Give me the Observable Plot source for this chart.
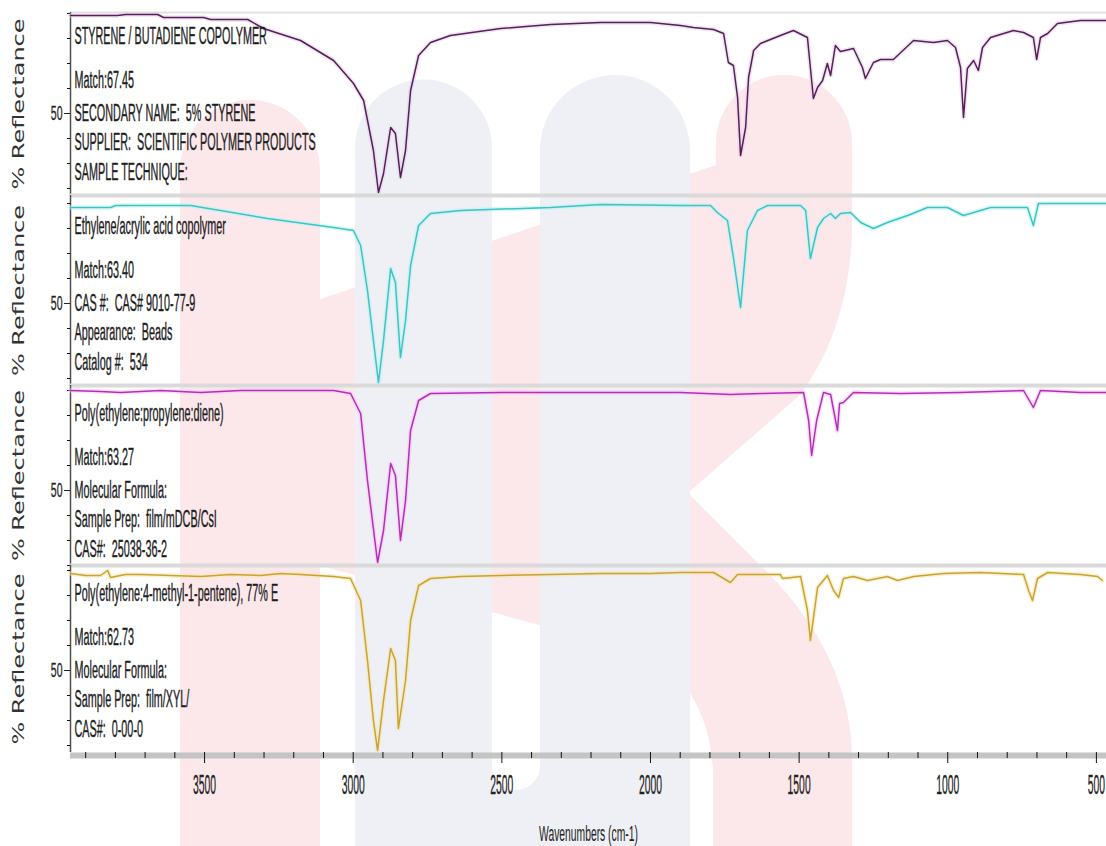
<!DOCTYPE html>
<html>
<head>
<meta charset="utf-8">
<script src="https://cdn.jsdelivr.net/npm/d3@7"></script>
<script src="https://cdn.jsdelivr.net/npm/@observablehq/plot@0.6"></script>
<style>
  body { margin: 0; background: #fff; }
  #wrap { position: relative; width: 1106px; height: 846px; overflow: hidden; background: #fff; }
  #wm { position: absolute; left: 0; top: 0; }
  #charts { position: absolute; left: 0; top: 0; }
  #charts svg { display: block; }
  #charts svg text { white-space: pre; }
</style>
</head>
<body>
<div id="wrap">
  <svg id="wm" width="1106" height="846">
    <g fill="#fce8eb">
      <path d="M180,846 V170 A70,70 0 0 1 320,170 V846 Z"/>
      <path d="M318,300 L716,165 V143 A68,68 0 0 1 852,143 V235 Q848,330 800,395 L688,493 L770,575 Q852,660 852,760 V846 H713 V770 Q708,690 650,655 L318,565 Z"/>
    </g>
    <path fill="#eef0f5" d="M355,846 V148 A68.5,68.5 0 0 1 492,148 V766 A24,24 0 0 0 540,766 V150 A75,75 0 0 1 690,150 V846 Z"/>
  </svg>
  <div id="charts"></div>
</div>
<script>
// ---------- data ----------
const styreneWn = [3951,3793,3766,3658,3638,3503,3480,3355,3302,3177,3066,2999,2965,2932,2915,2898,2874,2858,2841,2824,2807,2780,2740,2673,2504,2336,2168,2000,1899,1856,1788,1754,1738,1721,1707,1697,1680,1670,1653,1630,1563,1519,1472,1452,1438,1421,1405,1394,1378,1361,1317,1287,1277,1250,1226,1183,1115,1048,1001,974,957,947,934,913,897,883,856,779,745,712,701,688,664,631,554,466];
const styreneR = [89.2,89.2,89.6,89.6,88.4,88.4,87.6,87.6,84,79.2,71.2,62,55.2,35.2,18.4,26,44.4,42,24.4,35.2,59.2,73.2,78.4,81.2,84,85.6,86.4,86.4,85.2,84.4,83.6,82,70.4,69.2,56.4,33.2,44.4,64.4,75.2,78,81.2,83.2,80.4,56,60.4,63.2,70,65.2,77.2,74.8,76,68.4,64,70.4,71.6,71.6,79.2,78.4,79.2,76.4,68.4,48.4,68,71.2,67.2,76.4,80.4,83.2,82.4,80.4,71.6,80.4,82,86,87.2,87.2];

const eaaWn = [3951,3816,3799,3547,3288,3066,2999,2975,2952,2932,2915,2898,2874,2858,2841,2824,2807,2780,2740,2639,2336,2168,1899,1798,1775,1741,1721,1697,1674,1640,1606,1495,1478,1462,1438,1418,1394,1378,1361,1327,1293,1250,1203,1135,1068,1001,947,890,856,732,712,695,466];
const eaaR = [88.4,88.4,89.2,89.2,84,80.4,79.2,73.2,55.2,35.2,18.4,35.2,64,58.4,28.4,43.2,65.2,81.2,86,87.2,88.4,89.6,89.2,89.2,86.4,83.2,68.4,48.4,79.2,87.2,89.2,89.2,87.2,68,80.4,84,86,84,86,86.4,82.4,80,82.4,85.2,88.4,88.4,85.2,87.2,88.4,88.4,81.2,90,90];

const epdmWn = [3951,3850,3783,3648,3513,3379,3066,3009,2975,2952,2918,2898,2874,2858,2841,2824,2807,2780,2740,2504,2168,1899,1731,1630,1485,1468,1458,1441,1418,1394,1371,1364,1351,1317,1159,957,745,712,688,554,466];
const epdmR = [90,89.6,89.2,90,89.2,90,90,88.8,80.8,54,21.2,34,60.8,56,30,46,74,86,88.8,89.2,89.2,89.2,88.4,88.8,89.2,78,64,78,89.2,88.4,74,84.8,85.2,89.2,88.8,89.2,90,83.2,90,89.2,89.2];

const pmpWn = [3951,3900,3850,3826,3816,3766,3715,3614,3513,3413,3312,3244,3177,3066,3009,2975,2952,2932,2918,2898,2874,2858,2848,2824,2807,2780,2740,2639,2504,2336,2168,2000,1899,1788,1731,1707,1563,1556,1495,1472,1462,1438,1405,1384,1367,1351,1317,1270,1203,1169,1115,1014,890,745,728,715,698,664,554,496,480];
const pmpR = [88.8,88,88,90,87.2,88.4,88.4,88,87.6,88.4,88,88.8,88.4,87.6,86.8,78,54,30,18,38,58.8,54,26.8,46,70,84,86.8,87.6,88,88.4,88.8,88.8,89.2,89.2,85.2,88.4,88.4,86.8,87.6,74,62,83.2,88,82,79.2,86.8,87.6,86,87.6,86,87.6,88.8,89.2,88.4,82,78,86.8,89.2,88.4,87.6,86];

const styreneInfo = ["STYRENE / BUTADIENE COPOLYMER", "Match:67.45", "SECONDARY NAME:  5% STYRENE", "SUPPLIER:  SCIENTIFIC POLYMER PRODUCTS", "SAMPLE TECHNIQUE:"];
const eaaInfo = ["Ethylene/acrylic acid copolymer", "Match:63.40", "CAS #:  CAS# 9010-77-9", "Appearance:  Beads", "Catalog #:  534"];
const epdmInfo = ["Poly(ethylene:propylene:diene)", "Match:63.27", "Molecular Formula:", "Sample Prep:  film/mDCB/CsI", "CAS#:  25038-36-2"];
const pmpInfo = ["Poly(ethylene:4-methyl-1-pentene), 77% E", "Match:62.73", "Molecular Formula:", "Sample Prep:  film/XYL/", "CAS#:  0-00-0"];

const xMajorTicks = [3500, 3000, 2500, 2000, 1500, 1000, 500];
const xMinorTicks = [3900, 3800, 3700, 3600, 3400, 3300, 3200, 3100, 2900, 2800, 2700, 2600, 2400, 2300, 2200, 2100, 1900, 1800, 1700, 1600, 1400, 1300, 1200, 1100, 900, 800, 700, 600];
const yMajorTicks = [50];
const yMinorTicks = [20, 30, 40, 60, 70, 80, 90];
const yLabel = "% Reflectance";
const xLabel = "Wavenumbers (cm-1)";

// ---------- layout ----------
const xDomain = [3951, 466];
const infoOffsets = [30.8, 13.2, 0, -11.6, -23.6];
const squeeze = {"28px": 0.37, "21px": 0.5, "23px": 0.47, "22px": 0.47};

const panels = [
  {wn: styreneWn, r: styreneR, info: styreneInfo, color: "#55205a", halo: "#e6cfe6", yDomain: [17.2, 90.4], height: 195, marginTop: 12, marginBottom: 0, sepColor: "#e2e2e2", sepWidth: 2},
  {wn: eaaWn, r: eaaR, info: eaaInfo, color: "#3cc4c4", halo: "#bdf0f0", yDomain: [17.2, 93.2], height: 190, marginTop: 0, marginBottom: 0, sepColor: "#dadada", sepWidth: 4},
  {wn: epdmWn, r: epdmR, info: epdmInfo, color: "#b52fb5", halo: "#f6c4f6", yDomain: [20, 92], height: 180, marginTop: 0, marginBottom: 0, sepColor: "#dadada", sepWidth: 4},
  {wn: pmpWn, r: pmpR, info: pmpInfo, color: "#c9a230", halo: "#f5e6b0", yDomain: [17.2, 92], height: 281, marginTop: 0, marginBottom: 94, sepColor: "#dadada", sepWidth: 4, xAxis: true}
];

function condense(svg) {
  svg.querySelectorAll("text").forEach(t => {
    if (!t.textContent) return;
    let extra;
    if (t.textContent === yLabel) extra = " scale(1,0.68)";
    else {
      const fs = getComputedStyle(t).fontSize;
      extra = ` scale(${squeeze[fs] || 0.47},1)`;
    }
    let tr = t.getAttribute("transform");
    if (!tr) {
      const x = t.getAttribute("x") || 0, y = t.getAttribute("y") || 0;
      t.removeAttribute("x"); t.removeAttribute("y");
      tr = `translate(${x},${y})`;
    }
    t.setAttribute("transform", tr + extra);
  });
}

const host = document.getElementById("charts");
panels.forEach(cfg => {
  const data = cfg.wn.map((w, i) => ({wn: w, r: cfg.r[i]}));
  const marks = [
    Plot.ruleY([cfg.yDomain[1]], {stroke: cfg.sepColor, strokeWidth: cfg.sepWidth}),
    Plot.ruleX([xDomain[0]], {stroke: "#4d4d4d", strokeWidth: 1.5}),
    Plot.axisY({ticks: yMinorTicks, tickSize: 3, tickFormat: () => "", label: null, color: "#111"}),
    Plot.axisY({ticks: yMajorTicks, tickSize: 6, tickFormat: () => "", label: null, color: "#222"}),
    Plot.text(yMajorTicks, {x: xDomain[0], y: d => d, dx: -8, text: d => `${d}`, textAnchor: "end", lineAnchor: "middle", fontSize: 21, fill: "#222", stroke: "#222", strokeWidth: 0.3}),
    Plot.line(data, {x: "wn", y: "r", stroke: cfg.halo, strokeWidth: 4.5, strokeOpacity: 0.55}),
    Plot.line(data, {x: "wn", y: "r", stroke: cfg.color, strokeWidth: 1.5}),
    Plot.text(cfg.info, {frameAnchor: "left", dx: 4, y: (d, i) => 50 + infoOffsets[i], text: d => d, textAnchor: "start", fontSize: 23, fill: "#1e1e1e", stroke: "#1e1e1e", strokeWidth: 0.4}),
    Plot.text([yLabel], {frameAnchor: "left", dx: -52, rotate: -90, text: d => d, textAnchor: "middle", lineAnchor: "middle", fontSize: 24, fontFamily: "DejaVu Sans", fill: "#333"})
  ];
  if (cfg.xAxis) {
    marks.push(
      Plot.ruleY([cfg.yDomain[0]], {stroke: "#c4c4c4", strokeWidth: 6, dy: 3}),
      Plot.axisX({ticks: xMinorTicks, tickSize: 6, tickFormat: () => "", label: null, color: "#111"}),
      Plot.axisX({ticks: xMajorTicks, tickSize: 11, tickFormat: () => "", label: null, color: "#111"}),
      Plot.text(xMajorTicks, {x: d => d, frameAnchor: "bottom", dy: 33, text: d => `${d}`, textAnchor: "middle", lineAnchor: "middle", fontSize: 28, fill: "#222", stroke: "#222", strokeWidth: 0.3}),
      Plot.text([xLabel], {frameAnchor: "bottom", dy: 81, text: d => d, textAnchor: "middle", lineAnchor: "middle", fontSize: 22, fill: "#222"})
    );
  }
  const svg = Plot.plot({
    width: 1106,
    height: cfg.height,
    marginLeft: 70,
    marginRight: 0,
    marginTop: cfg.marginTop,
    marginBottom: cfg.marginBottom,
    x: {domain: xDomain, axis: null, label: null},
    y: {domain: cfg.yDomain, axis: null, label: null},
    style: {background: "transparent", overflow: "visible", fontFamily: "Liberation Sans", fontSize: "21px", color: "#222"},
    marks
  });
  host.appendChild(svg);
  condense(svg);
});
</script>
</body>
</html>
